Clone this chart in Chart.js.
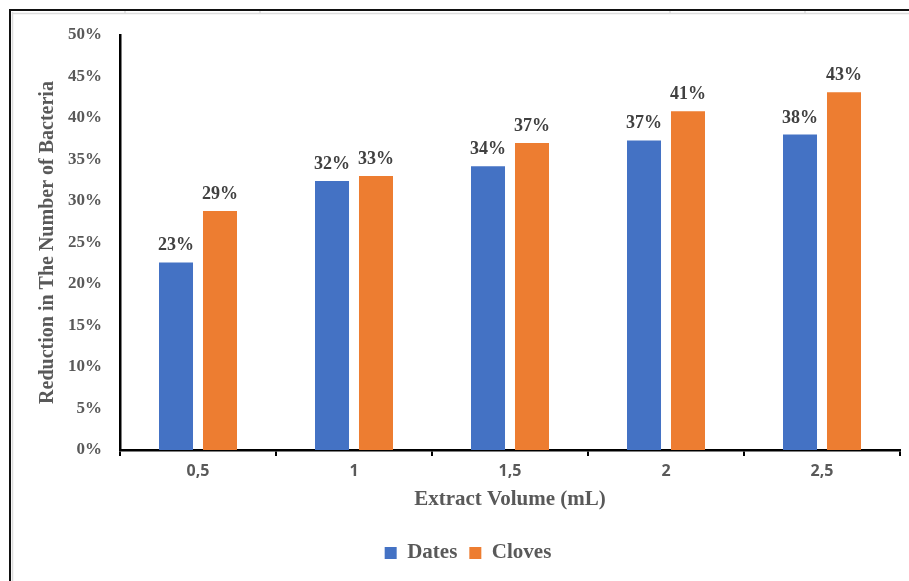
<!DOCTYPE html>
<html>
<head>
<meta charset="utf-8">
<script src="https://cdn.jsdelivr.net/npm/chart.js@4/dist/chart.umd.min.js"></script>
<style>
  html, body { margin: 0; padding: 0; background: #fff; }
  #wrap { width: 909px; height: 581px; position: relative; }
</style>
</head>
<body>
<div id="wrap"><canvas id="c" width="909" height="581"></canvas></div>
<script>
const categories = ['0,5', '1', '1,5', '2', '2,5'];
const datesValues = [22.6, 32.4, 34.2, 37.3, 38.0];
const clovesValues = [28.8, 33.0, 37.0, 40.8, 43.1];
const yTickMin = 0;
const yTickMax = 50;
const yTickStep = 5;

const SERIF = "'Liberation Serif', 'Times New Roman', serif";
const SANS = "'Open Sans', Calibri, sans-serif";
const GRAY = '#595959';

const frameDecor = {
  id: 'frameDecor',
  beforeDraw(chart) {
    const ctx = chart.ctx;
    ctx.save();
    ctx.fillStyle = '#fff';
    ctx.fillRect(0, 0, chart.width, chart.height);
    ctx.strokeStyle = '#dcdcdc';
    ctx.lineWidth = 1.5;
    ctx.beginPath();
    ctx.moveTo(12, 13.5); ctx.lineTo(chart.width, 13.5);
    ctx.moveTo(12.5, 12); ctx.lineTo(12.5, chart.height);
    [125, 260, 670, 805].forEach(x => { ctx.moveTo(x, 10); ctx.lineTo(x, 13.5); });
    ctx.stroke();
    ctx.strokeStyle = '#111';
    ctx.lineWidth = 2;
    ctx.beginPath();
    ctx.moveTo(10, chart.height); ctx.lineTo(10, 10); ctx.lineTo(chart.width, 10);
    ctx.stroke();
    ctx.restore();
  }
};

const valueLabels = {
  id: 'valueLabels',
  afterDatasetsDraw(chart) {
    const ctx = chart.ctx;
    ctx.save();
    ctx.font = 'bold 18px ' + SERIF;
    ctx.fillStyle = '#404040';
    ctx.textAlign = 'center';
    ctx.textBaseline = 'alphabetic';
    chart.data.datasets.forEach((ds, i) => {
      const meta = chart.getDatasetMeta(i);
      meta.data.forEach((el, j) => {
        ctx.fillText(Math.round(ds.data[j]) + '%', el.x, el.y - 12);
      });
    });
    ctx.restore();
  }
};

new Chart(document.getElementById('c'), {
  type: 'bar',
  data: {
    labels: categories,
    datasets: [
      { label: 'Dates', data: datesValues, backgroundColor: '#4472C4',
        categoryPercentage: 0.564, barPercentage: 0.773 },
      { label: 'Cloves', data: clovesValues, backgroundColor: '#ED7D31',
        categoryPercentage: 0.564, barPercentage: 0.773 }
    ]
  },
  options: {
    responsive: false,
    animation: false,
    devicePixelRatio: 1,
    layout: { padding: { left: 36, right: 9, top: 35, bottom: 7.5 } },
    plugins: {
      tooltip: { enabled: false },
      legend: {
        position: 'bottom',
        labels: {
          boxWidth: 12, boxHeight: 12, padding: 12,
          color: GRAY,
          font: { family: SERIF, size: 21, weight: 'bold' }
        }
      }
    },
    scales: {
      x: {
        afterFit(scale) { scale.height = 80.5; },
        grid: { display: true, drawOnChartArea: false, drawTicks: true, tickLength: 6, color: '#000', lineWidth: 2, offset: true },
        border: { display: true, color: '#000', width: 2.5 },
        ticks: { color: GRAY, padding: 6, font: { family: SANS, size: 16, weight: 'bold' } },
        title: { display: true, text: 'Extract Volume (mL)', color: GRAY,
          font: { family: SERIF, size: 21, weight: 'bold' }, padding: { top: 0, bottom: 18 } }
      },
      y: {
        min: yTickMin, max: yTickMax,
        afterFit(scale) { scale.width = 84; },
        grid: { display: false, drawTicks: false },
        border: { display: true, color: '#000', width: 2.5 },
        ticks: { stepSize: yTickStep, padding: 18, color: GRAY,
          font: { family: SERIF, size: 17, weight: 'bold' },
          callback: v => v + '%' },
        title: { display: true, text: 'Reduction in The Number of Bacteria', color: GRAY,
          font: { family: SERIF, size: 20, weight: 'bold', lineHeight: 1 }, padding: { top: 2, bottom: 0 } }
      }
    }
  },
  plugins: [frameDecor, valueLabels]
});
</script>
</body>
</html>
